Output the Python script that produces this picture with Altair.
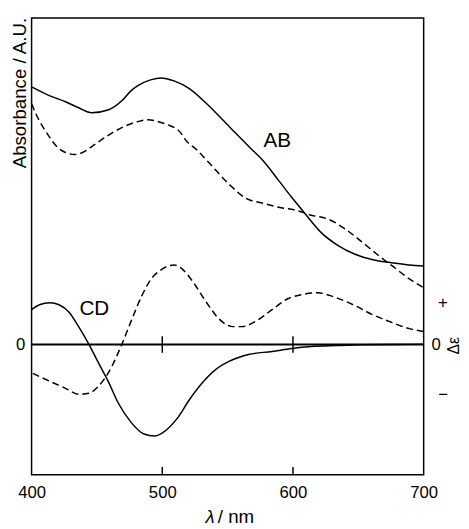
import altair as alt
import pandas as pd

FONT = "Liberation Sans"

# Absorbance (solid)
ab_solid_nm = [400, 414, 426, 436, 446, 459, 469, 476, 481, 491, 499, 509, 521, 534, 552,
               567, 577, 589, 599, 609, 622, 634, 647, 662, 677, 689, 700]
ab_solid_val = [2.59, 2.50, 2.44, 2.38, 2.33, 2.36, 2.45, 2.55, 2.60, 2.66, 2.68, 2.65, 2.57,
                2.42, 2.18, 1.98, 1.85, 1.65, 1.48, 1.32, 1.12, 1.00, 0.91, 0.85, 0.82, 0.80, 0.79]

# Absorbance (dashed)
ab_dash_nm = [400, 404, 409, 414, 420, 426, 433, 439, 446, 456, 469, 481, 489, 497, 504,
              514, 517, 527, 539, 552, 564, 577, 589, 602, 614, 627, 639, 652, 664, 677, 689, 700]
ab_dash_val = [2.42, 2.30, 2.18, 2.08, 1.98, 1.93, 1.91, 1.93, 1.99, 2.08, 2.18, 2.24, 2.26,
               2.24, 2.21, 2.13, 2.07, 1.95, 1.78, 1.60, 1.47, 1.42, 1.38, 1.35, 1.30, 1.26,
               1.17, 1.04, 0.91, 0.78, 0.66, 0.57]

# CD (solid)
cd_solid_nm = [400, 406, 414, 421, 429, 436, 444, 451, 459, 466, 476, 486, 494, 501, 511,
               521, 531, 541, 551, 566, 584, 599, 614, 634, 652, 677, 700]
cd_solid_val = [0.35, 0.40, 0.42, 0.40, 0.32, 0.18, 0.00, -0.18, -0.38, -0.58, -0.78, -0.90,
                -0.92, -0.88, -0.75, -0.55, -0.38, -0.25, -0.17, -0.10, -0.07, -0.04, -0.02,
                -0.01, -0.003, 0.0, 0.003]

# CD (dashed)
cd_dash_nm = [401, 414, 426, 436, 444, 451, 456, 461, 469, 476, 484, 491, 499, 509, 516,
              524, 534, 544, 554, 561, 571, 584, 596, 606, 619, 631, 646, 661, 676, 689, 700]
cd_dash_val = [-0.29, -0.37, -0.44, -0.50, -0.49, -0.42, -0.34, -0.23, 0.00, 0.23, 0.48,
               0.65, 0.75, 0.80, 0.75, 0.62, 0.42, 0.25, 0.18, 0.18, 0.23, 0.35, 0.46, 0.50,
               0.52, 0.48, 0.40, 0.30, 0.22, 0.16, 0.13]

tick_nm = [400, 500, 600, 700]
inner_tick_nm = [500, 600]

label_text = ["AB", "CD"]
label_nm = [588, 448]
label_val = [2.04, 0.36]

x_scale = alt.Scale(domain=[400, 700], nice=False, zero=False)
y_scale = alt.Scale(domain=[-1.31, 3.283], nice=False, zero=False)

XA = alt.Axis(values=tick_nm, labelFontSize=17, labelFont=FONT, tickSize=0,
              domain=False, grid=False, labelPadding=22.7, format="d",
              labelBaseline="alphabetic", title=None, labelFlush=False,
              labelColor="black")
YA = alt.Axis(values=[0], labelFontSize=17, labelFont=FONT, tickSize=0,
              domain=False, grid=False, labelPadding=7, title=None, format="d",
              labelColor="black")

X = lambda: alt.X("nm:Q", scale=x_scale, axis=XA)
Y = lambda: alt.Y("val:Q", scale=y_scale, axis=YA)


def line(nm, val, dashed):
    df = pd.DataFrame({"nm": nm, "val": val})
    kw = dict(color="black", strokeWidth=1.5, interpolate="monotone")
    if dashed:
        kw["strokeDash"] = [7, 4]
    return alt.Chart(df).mark_line(**kw).encode(x=X(), y=Y())


layers = [
    line(ab_solid_nm, ab_solid_val, False),
    line(ab_dash_nm, ab_dash_val, True),
    line(cd_solid_nm, cd_solid_val, False),
    line(cd_dash_nm, cd_dash_val, True),
]

# zero line
layers.append(
    alt.Chart(pd.DataFrame({"val": [0]})).mark_rule(color="black", strokeWidth=2.2).encode(
        y=Y()
    )
)

ticks_df = pd.DataFrame({"nm": inner_tick_nm})
layers.append(
    alt.Chart(ticks_df).mark_rule(color="black", strokeWidth=1.5).encode(
        x=X(),
        y=alt.datum(-0.083),
        y2=alt.datum(0.083),
    )
)
layers.append(
    alt.Chart(ticks_df).mark_rule(color="black", strokeWidth=1.5).encode(
        x=X(),
        y=alt.datum(-1.31),
        y2=alt.datum(-1.23),
    )
)

# curve labels
lab_df = pd.DataFrame({"t": label_text, "nm": label_nm, "val": label_val})
layers.append(
    alt.Chart(lab_df).mark_text(font=FONT, fontSize=21, color="black",
                                align="center", baseline="middle").encode(
        x=X(), y=Y(), text="t:N",
    )
)


def ann(text, x, y, size, angle=0, align="center", baseline="middle", style="normal"):
    kw = dict(font=FONT, fontSize=size, color="black", align=align, baseline=baseline,
              fontStyle=style)
    if angle:
        kw["angle"] = angle
    return alt.Chart(pd.DataFrame({"t": [text]})).mark_text(**kw).encode(
        x=alt.value(x), y=alt.value(y), text="t:N"
    )


layers += [
    ann("Absorbance / A.U.", -12, 0, 19, angle=270, align="right"),
    ann("λ", 181.6, 514.5, 19, baseline="alphabetic", style="italic"),
    ann("/ nm", 189.5, 514.5, 19, align="left", baseline="alphabetic"),
    ann("0", 411.8, 332.5, 17),
    ann("+", 418.5, 290.5, 17),
    ann("−", 418.8, 383.5, 17),
    ann("Δε", 429.5, 333.5, 16, angle=270),
]

chart = alt.layer(*layers).properties(
    width=399,
    height=465,
    autosize=alt.AutoSizeParams(type="none"),
    padding={"left": 24, "top": 5.5, "right": 38, "bottom": 50},
).configure_view(stroke="black", strokeWidth=1.5)

chart.save("out.html", embed_options={"renderer": "svg", "actions": False})
